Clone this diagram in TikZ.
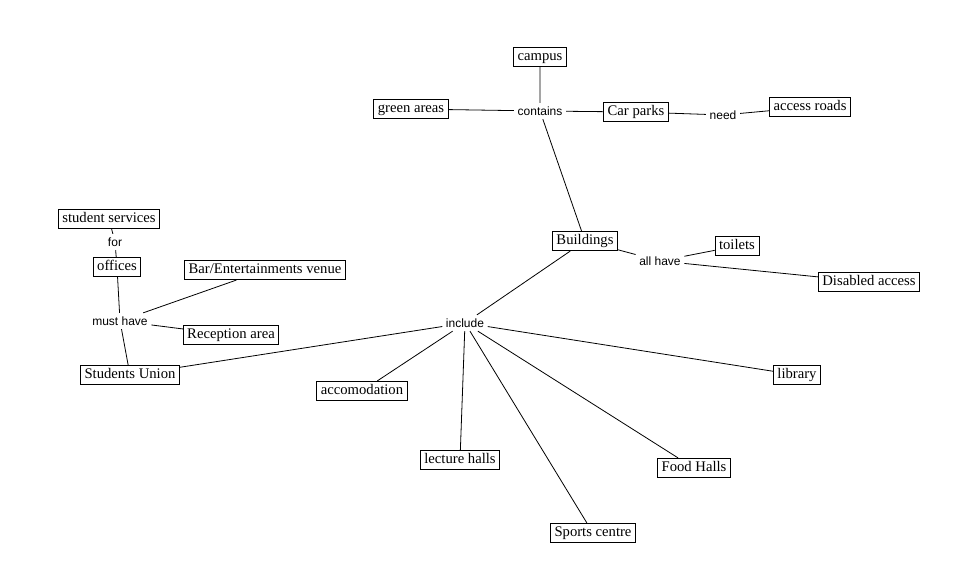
\documentclass[tikz,border=0pt]{standalone}
\usepackage{fontspec}
\setmainfont{Liberation Serif}
\setsansfont{Liberation Sans}
\usepackage{tikz}
\usetikzlibrary{positioning}
\tikzset{
concept/.style={draw, line width=0.6pt, font=\fontsize{11}{12}\selectfont, inner xsep=3pt, inner ysep=2pt, text height=7.5pt, text depth=3pt},
link/.style={font=\sffamily\fontsize{9}{10}\selectfont, inner sep=2.5pt, fill=white},
every path/.style={line width=0.6pt}
}

\begin{document}
\begin{tikzpicture}[x=0.75pt, y=-0.75pt]
	\useasboundingbox (0,0) rectangle (964,586);
	% concepts
	\node[concept] (campus) at (540,57) {campus};
	\node[concept] (green) at (411,109) {green areas};
	\node[concept] (carparks) at (636,112) {Car parks};
	\node[concept] (roads) at (810,107) {access roads};
	\node[concept] (buildings) at (585,241) {Buildings};
	\node[concept] (toilets) at (737,246) {toilets};
	\node[concept] (disabled) at (869,282) {Disabled access};
	\node[concept] (services) at (109,219) {student services};
	\node[concept] (offices) at (117,267) {offices};
	\node[concept] (bar) at (265,270) {Bar/Entertainments venue};
	\node[concept] (reception) at (231,335) {Reception area};
	\node[concept] (union) at (130,375) {Students Union};
	\node[concept] (accom) at (362,391) {accomodation};
	\node[concept] (library) at (797,375) {library};
	\node[concept] (lecture) at (460,460) {lecture halls};
	\node[concept] (food) at (694,468) {Food Halls};
	\node[concept] (sports) at (593,533) {Sports centre};

	% linking words
	\node[link] (contains) at (540,111) {contains};
	\node[link] (need) at (723,115) {need};
	\node[link] (allhave) at (660,261) {all have};
	\node[link] (include) at (465,323) {include};
	\node[link] (for) at (115,242) {for};
	\node[link] (musthave) at (120,321) {must have};

	% connectors
	\draw (campus) -- (contains) (green) -- (contains) (contains) -- (carparks) (contains) -- (buildings);
	\draw (carparks) -- (need) -- (roads);
	\draw (buildings) -- (allhave) (allhave) -- (toilets) (allhave) -- (disabled);
	\draw (buildings) -- (include);
	\draw (include) -- (union) (include) -- (accom) (include) -- (lecture) (include) -- (sports) (include) -- (food) (include) -- (library);
	\draw (union) -- (musthave) (musthave) -- (offices) (musthave) -- (bar) (musthave) -- (reception);
	\draw (offices) -- (for) -- (services);
\end{tikzpicture}
\end{document}
